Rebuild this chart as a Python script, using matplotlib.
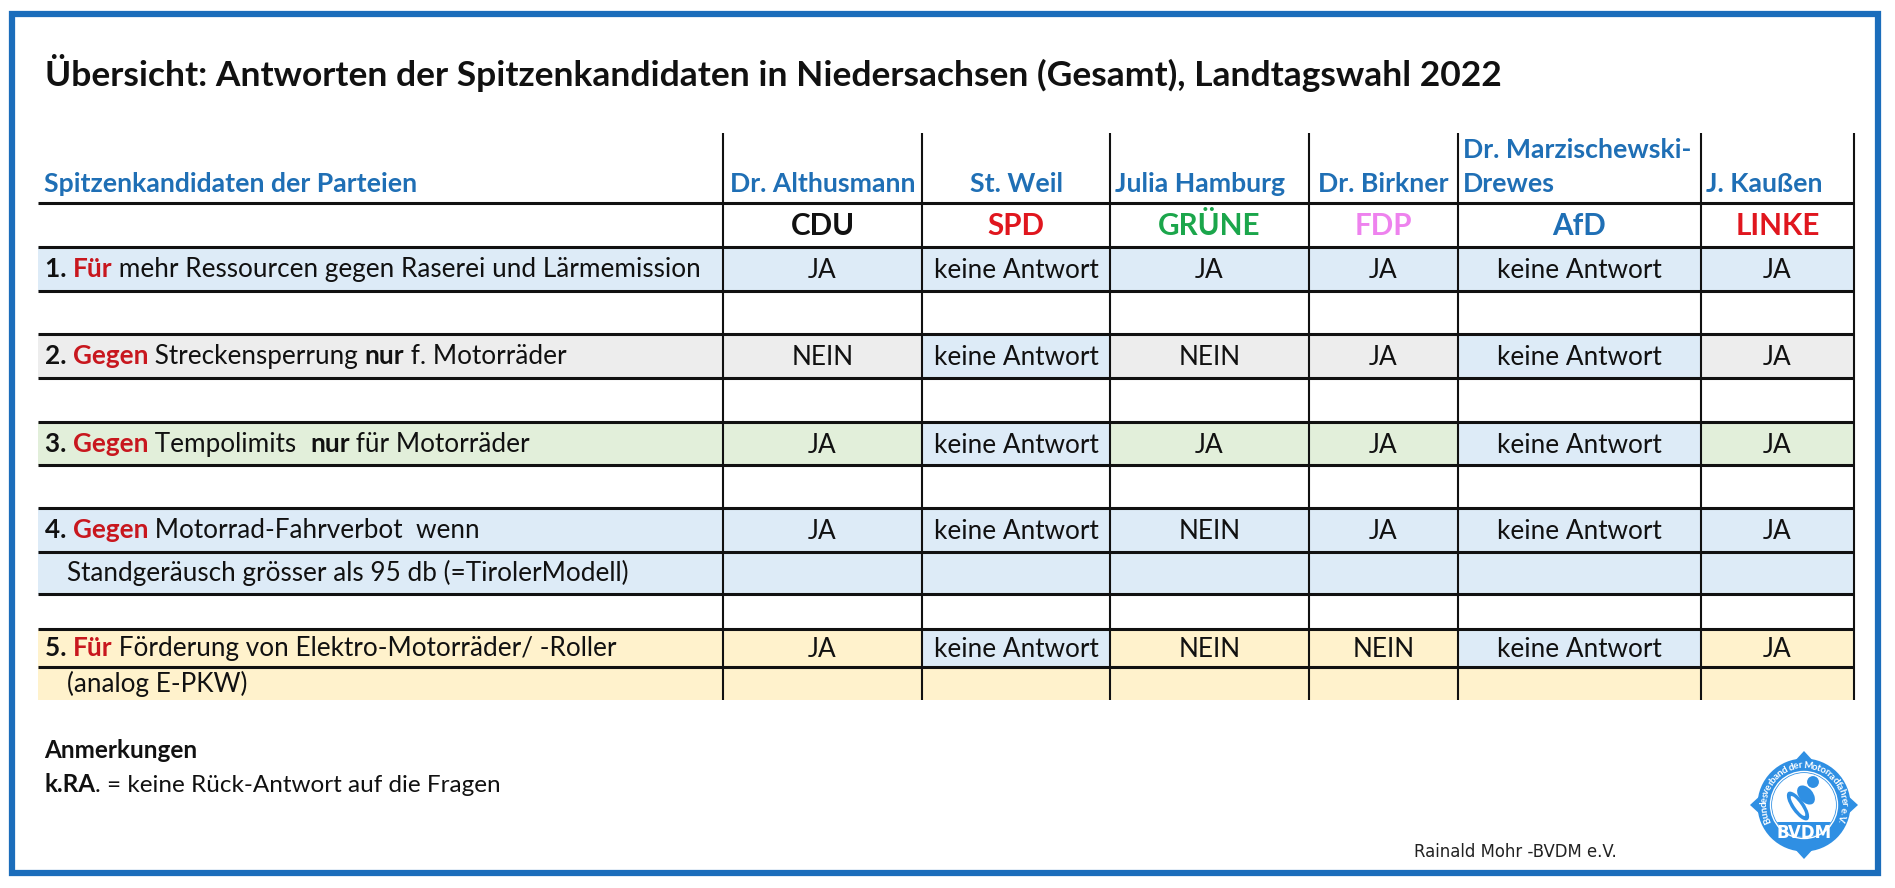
import numpy as np
import matplotlib
matplotlib.use("Agg")
import matplotlib.pyplot as plt
from matplotlib.patches import Rectangle, Circle, Ellipse, Polygon

plt.rcParams['font.family'] = ['Lato', 'DejaVu Sans']

# ---- content ----
title = "Übersicht: Antworten der Spitzenkandidaten in Niedersachsen (Gesamt), Landtagswahl 2022"
header_left = "Spitzenkandidaten der Parteien"
candidates = ["Dr. Althusmann", "St. Weil", "Julia Hamburg", "Dr. Birkner",
              "Dr. Marzischewski-\nDrewes", "J. Kaußen"]
cand_align = ["center", "center", "left", "center", "left", "left"]
parties = ["CDU", "SPD", "GRÜNE", "FDP", "AfD", "LINKE"]
party_colors = ["#111111", "#E0161E", "#1BA64B", "#EE82EE", "#1F6FB5", "#E0161E"]

# question text segments: (text, style)  n=normal, b=bold, r=bold red
questions = [
    [[("1. ", "b"), ("Für", "r"), (" mehr Ressourcen gegen Raserei und Lärmemission", "n")]],
    [[("2. ", "b"), ("Gegen", "r"), (" Streckensperrung ", "n"), ("nur", "b"), (" f. Motorräder", "n")]],
    [[("3. ", "b"), ("Gegen", "r"), (" Tempolimits  ", "n"), ("nur", "b"), (" für Motorräder", "n")]],
    [[("4. ", "b"), ("Gegen", "r"), (" Motorrad-Fahrverbot  wenn", "n")],
     [("Standgeräusch grösser als 95 db (=TirolerModell)", "n")]],
    [[("5. ", "b"), ("Für", "r"), (" Förderung von Elektro-Motorräder/ -Roller", "n")],
     [("(analog E-PKW)", "n")]],
]
answers = [
    ["JA", "keine Antwort", "JA", "JA", "keine Antwort", "JA"],
    ["NEIN", "keine Antwort", "NEIN", "JA", "keine Antwort", "JA"],
    ["JA", "keine Antwort", "JA", "JA", "keine Antwort", "JA"],
    ["JA", "keine Antwort", "NEIN", "JA", "keine Antwort", "JA"],
    ["JA", "keine Antwort", "NEIN", "NEIN", "keine Antwort", "JA"],
]
row_colors = ["#DDEBF7", "#EDEDED", "#E2EFDA", "#DDEBF7", "#FFF2CC"]
no_answer_color = "#DDEBF7"

notes_head = "Anmerkungen"
notes = [("k.RA", "b"), (". = keine Rück-Antwort auf die Fragen", "n")]
credit = "Rainald Mohr -BVDM e.V."
logo_ring = "Bundesverband der Motorradfahrer e.V."
logo_name = "BVDM"

# ---- layout (pixels) ----
W, H = 1895, 888
col_edges = [38, 723, 922, 1110, 1309, 1458, 1701, 1854]
table_top = 133
head_bottom = 203
party_bottom = 247
# height of each question line, gap row after each question
q_rows = [[44], [44], [43], [44, 42], [38, 33]]
gaps = [43, 44, 43, 35, 0]

BLUE = "#1F6FB5"
RED = "#C8171E"
fs_body = 18.8
fs_head = 19.2

fig = plt.figure(figsize=(W / 100, H / 100), dpi=100)
ax = fig.add_axes([0, 0, 1, 1])
ax.set_xlim(0, W)
ax.set_ylim(H, 0)
ax.axis("off")
rend = fig.canvas.get_renderer()


def seg_w(s, **kw):
    t1 = ax.text(0, 0, "x" + s + "x", **kw)
    t2 = ax.text(0, 0, "xx", **kw)
    w = t1.get_window_extent(rend).width - t2.get_window_extent(rend).width
    t1.remove()
    t2.remove()
    return w


def rich(x, y, parts, size):
    for s, st in parts:
        kw = dict(fontsize=size, fontweight="normal" if st == "n" else "bold",
                  color=RED if st == "r" else "#111111")
        ax.text(x, y, s, va="baseline", ha="left", **kw)
        x += seg_w(s, **kw)


# outer blue frame
ax.add_patch(Rectangle((12, 14.5), 1866, 858, fill=False, ec="#1B6DBB", lw=4.5))

ax.text(45, 86, title, fontsize=25.5, fontweight="bold", color="#111111", va="baseline")

# header row
ax.text(44, 192, header_left, fontsize=fs_head, fontweight="bold", color=BLUE, va="baseline")
for i, name in enumerate(candidates):
    x0, x1 = col_edges[i + 1], col_edges[i + 2]
    x = (x0 + x1) / 2 if cand_align[i] == "center" else x0 + 5
    ax.text(x, 192, name, fontsize=fs_head, fontweight="bold", color=BLUE,
            ha=cand_align[i], va="baseline", linespacing=1.5)
    ax.text((x0 + x1) / 2, 235, parties[i], fontsize=21.3, fontweight="bold",
            color=party_colors[i], ha="center", va="baseline")

# body rows
y = party_bottom
hlines = [head_bottom, party_bottom]
for qi, lines in enumerate(questions):
    for li, parts in enumerate(lines):
        h = q_rows[qi][li]
        base = row_colors[qi]
        for c in range(7):
            fc = base
            if c > 0 and li == 0 and answers[qi][c - 1] == "keine Antwort":
                fc = no_answer_color
            ax.add_patch(Rectangle((col_edges[c], y), col_edges[c + 1] - col_edges[c], h,
                                   fc=fc, ec="none", zorder=0))
        xl = 45 if li == 0 else 67
        rich(xl, y + h / 2 + 8, parts, fs_body)
        if li == 0:
            for c, a in enumerate(answers[qi]):
                ax.text((col_edges[c + 1] + col_edges[c + 2]) / 2, y + h / 2 + 9, a,
                        fontsize=fs_body, color="#111111", ha="center", va="baseline")
        y += h
        if not (qi == len(questions) - 1 and li == len(lines) - 1):
            hlines.append(y)
    y += gaps[qi]
    if gaps[qi]:
        hlines.append(y)
table_bottom = y

for hy in hlines:
    ax.plot([col_edges[0], col_edges[-1]], [hy, hy], color="#111111", lw=2.2, solid_capstyle="butt")
for vx in col_edges[1:]:
    ax.plot([vx, vx], [table_top, table_bottom], color="#111111", lw=1.5, solid_capstyle="butt")

# notes
ax.text(44, 758, notes_head, fontsize=17.5, fontweight="bold", color="#111111", va="baseline")
rich(44, 792, notes, 17.5)
ax.text(1414, 857, credit, fontsize=11.9, family="DejaVu Sans", color="#222222", va="baseline")

# logo
cx, cy = 1804, 805
LB = "#2F8FE3"
for ang in [0, 90, 180, 270]:
    a = np.radians(ang)
    tip = (cx + 54 * np.cos(a), cy - 54 * np.sin(a))
    side = np.array([-np.sin(a), -np.cos(a)])
    basep = np.array([cx + 42 * np.cos(a), cy - 42 * np.sin(a)])
    ax.add_patch(Polygon([basep + 11 * side, tip, basep - 11 * side], closed=True,
                         fc=LB, ec="none", zorder=3))
ax.add_patch(Circle((cx, cy), 46.5, fc=LB, ec="none", zorder=3))
ax.add_patch(Circle((cx, cy), 32, fc="white", ec="none", zorder=4))
band = Rectangle((cx - 40, cy + 17), 80, 20, fc=LB, ec="none", zorder=5)
ax.add_patch(band)
band.set_clip_path(Circle((cx, cy), 32, transform=ax.transData))
ax.add_patch(Circle((cx, cy), 33.5, fill=False, ec="white", lw=1, zorder=6))
ax.text(cx, cy + 33, logo_name, fontsize=12, fontweight="bold", color="white",
        ha="center", va="baseline", zorder=7, family="DejaVu Sans")
# rider
ax.add_patch(Ellipse((cx - 6, cy + 1), 13, 34, angle=-35, fc=LB, ec="none", zorder=5))
ax.add_patch(Ellipse((cx - 6, cy + 1), 6, 24, angle=-35, fc="white", ec="none", zorder=5))
ax.add_patch(Ellipse((cx + 2, cy - 10), 14, 22, angle=-40, fc=LB, ec="none", zorder=5))
ax.add_patch(Circle((cx + 9, cy - 23), 6.5, fc=LB, ec="white", lw=0.8, zorder=6))
# ring text, spread by glyph width over the upper arc
ring_kw = dict(fontsize=7, fontweight="bold", color="white")
r_txt = 39.5
span = np.radians(232)
cw = np.array([seg_w(ch, **ring_kw) for ch in logo_ring])
pos = (np.cumsum(cw) - cw / 2) / cw.sum() - 0.5
for ch, p in zip(logo_ring, pos):
    ang = 90 - np.degrees(p * span)
    a = np.radians(ang)
    ax.text(cx + r_txt * np.cos(a), cy - r_txt * np.sin(a), ch, ha="center", va="center",
            rotation=ang - 90, zorder=7, **ring_kw)

fig.savefig("out.png", dpi=100, facecolor="white")
